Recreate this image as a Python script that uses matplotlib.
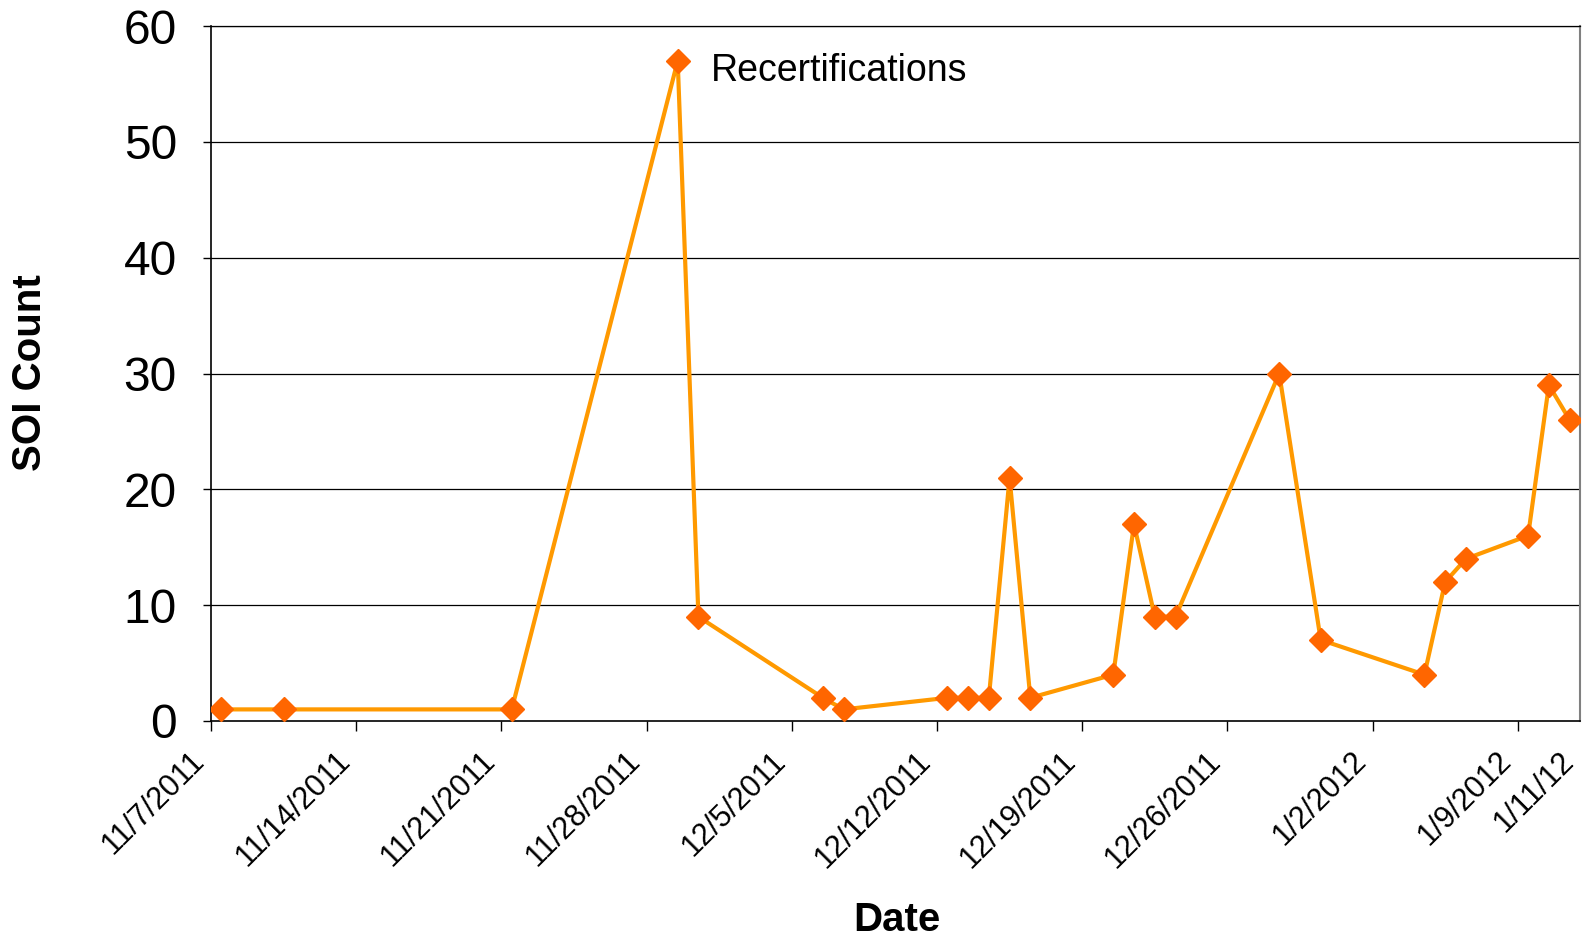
import matplotlib
matplotlib.use("Agg")
import matplotlib.pyplot as plt
import matplotlib.dates as mdates
from datetime import datetime, timedelta

plt.rcParams['font.family'] = ['Liberation Sans', 'DejaVu Sans']

dates = ["2011-11-07", "2011-11-10", "2011-11-21", "2011-11-29", "2011-11-30",
         "2011-12-06", "2011-12-07", "2011-12-12", "2011-12-13", "2011-12-14",
         "2011-12-15", "2011-12-16", "2011-12-20", "2011-12-21", "2011-12-22",
         "2011-12-23", "2011-12-28", "2011-12-30", "2012-01-04", "2012-01-05",
         "2012-01-06", "2012-01-09", "2012-01-10", "2012-01-11"]
counts = [1, 1, 1, 57, 9, 2, 1, 2, 2, 2, 21, 2, 4, 17, 9, 9, 30, 7, 4, 12, 14, 16, 29, 26]

tick_dates = ["2011-11-07", "2011-11-14", "2011-11-21", "2011-11-28", "2011-12-05",
              "2011-12-12", "2011-12-19", "2011-12-26", "2012-01-02", "2012-01-09",
              "2012-01-12"]
tick_labels = ["11/7/2011", "11/14/2011", "11/21/2011", "11/28/2011", "12/5/2011",
               "12/12/2011", "12/19/2011", "12/26/2011", "1/2/2012", "1/9/2012",
               "1/11/12"]
y_ticks = [0, 10, 20, 30, 40, 50, 60]
annotation = "Recertifications"

# points are plotted in the middle of each day (category-style date axis)
x = [mdates.date2num(datetime.strptime(d, "%Y-%m-%d") + timedelta(hours=12)) for d in dates]
xt = [mdates.date2num(datetime.strptime(d, "%Y-%m-%d")) for d in tick_dates]

fig = plt.figure(figsize=(15.9, 9.4), dpi=100)
ax = fig.add_axes([0.1327, 0.233, 0.861, 0.7393])

for yv in y_ticks[1:]:
    ax.axhline(yv, color='black', lw=0.9, zorder=1)

ax.plot(x, counts, color='#FF9900', lw=3.0, zorder=2)
ax.plot(x, counts, linestyle='none', marker='D', ms=12.5, color='#FF6600',
        markeredgecolor='#FF6600', zorder=3)

ax.set_xlim(xt[0], xt[-1])
ax.set_ylim(0, 60)
ax.set_yticks(y_ticks)
ax.set_yticklabels([str(v) for v in y_ticks], fontsize=34.5)
ax.set_xticks(xt)
ax.set_xticklabels(tick_labels, fontsize=22, rotation=45, ha='right', va='top')
ax.tick_params(axis='x', length=7, width=1, direction='out', pad=11, colors='black')
ax.tick_params(axis='y', length=6, width=1, direction='out', pad=18.5, colors='black')
# hide the tick mark at the right edge
ax.xaxis.get_major_ticks()[-1].tick1line.set_visible(False)

for s in ['left', 'bottom']:
    ax.spines[s].set_color('black')
    ax.spines[s].set_linewidth(1.2)
ax.spines['right'].set_color('#808080')
ax.spines['right'].set_linewidth(1.5)
ax.spines['top'].set_color('black')
ax.spines['top'].set_linewidth(0.9)

fig.text(30.5 / 1590, 1 - 373 / 940, "SOI Count", fontsize=29, fontweight='bold',
         rotation=90, ha='center', va='center')
fig.text(897 / 1590, 1 - 920 / 940, "Date", fontsize=29, fontweight='bold',
         ha='center', va='center')

imax = counts.index(max(counts))
ax.annotate(annotation, xy=(x[imax], counts[imax]), xytext=(33, -10),
            textcoords='offset pixels', fontsize=27, ha='left', va='center')

fig.savefig("out.png", dpi=100, facecolor='white')
